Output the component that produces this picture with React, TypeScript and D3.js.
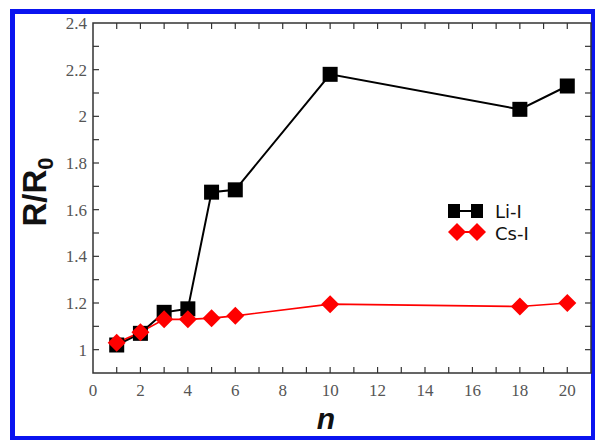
import React, { useEffect, useRef } from "react";
import * as d3 from "d3";

const nValues = [1, 2, 3, 4, 5, 6, 10, 18, 20];
const liI = [1.02, 1.07, 1.16, 1.175, 1.675, 1.685, 2.18, 2.03, 2.13];
const csI = [1.03, 1.075, 1.13, 1.13, 1.135, 1.145, 1.195, 1.185, 1.2];
const xTicks = [0, 2, 4, 6, 8, 10, 12, 14, 16, 18, 20];
const yTicks = [1, 1.2, 1.4, 1.6, 1.8, 2, 2.2, 2.4];
const seriesNames = ["Li-I", "Cs-I"];

export default function App() {
  const ref = useRef<SVGSVGElement>(null);
  useEffect(() => {
    const svg = d3.select(ref.current);
    svg.selectAll("*").remove();
    const L = 93, R = 591, T = 23, B = 373;
    const x = d3.scaleLinear().domain([0, 21]).range([L, R]);
    const y = d3.scaleLinear().domain([0.9, 2.4]).range([B, T]);

    // blue frame
    svg.append("rect").attr("x", 12.5).attr("y", 11.5).attr("width", 581).attr("height", 427)
      .attr("fill", "none").attr("stroke", "#0a14f0").attr("stroke-width", 5);

    const axisColor = "#333";
    const g = svg.append("g");
    g.append("rect").attr("x", L).attr("y", T).attr("width", R - L).attr("height", B - T)
      .attr("fill", "none").attr("stroke", axisColor).attr("stroke-width", 1.5);

    const xMinor = d3.range(1, 21, 1);
    xMinor.forEach((v) => {
      const len = 6;
      g.append("line").attr("x1", x(v)).attr("x2", x(v)).attr("y1", B).attr("y2", B - len).attr("stroke", axisColor).attr("stroke-width", 1.2);
      g.append("line").attr("x1", x(v)).attr("x2", x(v)).attr("y1", T).attr("y2", T + len).attr("stroke", axisColor).attr("stroke-width", 1.2);
    });
    const yMinor = d3.range(1.0, 2.4, 0.1);
    yMinor.forEach((v) => {
      g.append("line").attr("x1", L).attr("x2", L + 6).attr("y1", y(v)).attr("y2", y(v)).attr("stroke", axisColor).attr("stroke-width", 1.2);
      g.append("line").attr("x1", R).attr("x2", R - 6).attr("y1", y(v)).attr("y2", y(v)).attr("stroke", axisColor).attr("stroke-width", 1.2);
    });

    const tickFont = "'Liberation Serif', 'DejaVu Serif', serif";
    xTicks.forEach((v) => {
      g.append("text").attr("x", x(v)).attr("y", B + 23).attr("text-anchor", "middle")
        .style("font-family", tickFont).style("font-size", "17px").attr("fill", "#555").text(String(v));
    });
    yTicks.forEach((v) => {
      g.append("text").attr("x", L - 6).attr("y", y(v) + 6).attr("text-anchor", "end")
        .style("font-family", tickFont).style("font-size", "17px").attr("fill", "#555").text(String(v));
    });

    // axis titles
    const yt = svg.append("text").attr("transform", `translate(46,192) rotate(-90)`)
      .attr("text-anchor", "middle").style("font-family", "'Liberation Sans', Arial, sans-serif")
      .style("font-weight", "bold").style("font-size", "33px").attr("fill", "#111");
    yt.append("tspan").text("R/R");
    yt.append("tspan").style("font-size", "22px").attr("dy", 7).text("0");
    svg.append("text").attr("x", 326).attr("y", 429).attr("text-anchor", "middle")
      .style("font-family", "'Liberation Sans', Arial, sans-serif").style("font-weight", "bold")
      .style("font-style", "italic").style("font-size", "30px").attr("fill", "#111").text("n");

    const line = d3.line<number>().x((_, i) => x(nValues[i])).y((d) => y(d));
    g.append("path").datum(liI).attr("d", line).attr("fill", "none").attr("stroke", "#000").attr("stroke-width", 2);
    g.append("path").datum(csI).attr("d", line).attr("fill", "none").attr("stroke", "#f00").attr("stroke-width", 1.6);

    const sq = 15;
    liI.forEach((v, i) => {
      g.append("rect").attr("x", x(nValues[i]) - sq / 2).attr("y", y(v) - sq / 2).attr("width", sq).attr("height", sq).attr("fill", "#000");
    });
    const diamond = (cx: number, cy: number, r: number) => `M${cx},${cy - r}L${cx + r},${cy}L${cx},${cy + r}L${cx - r},${cy}Z`;
    csI.forEach((v, i) => {
      g.append("path").attr("d", diamond(x(nValues[i]), y(v), 9)).attr("fill", "#f00");
    });

    // legend
    const lg = svg.append("g");
    lg.append("line").attr("x1", 453).attr("x2", 478).attr("y1", 211).attr("y2", 211).attr("stroke", "#000").attr("stroke-width", 2);
    lg.append("rect").attr("x", 448).attr("y", 204).attr("width", 12).attr("height", 14).attr("fill", "#000");
    lg.append("rect").attr("x", 471).attr("y", 204).attr("width", 12).attr("height", 14).attr("fill", "#000");
    lg.append("line").attr("x1", 456).attr("x2", 477).attr("y1", 232).attr("y2", 232).attr("stroke", "#f00").attr("stroke-width", 2);
    lg.append("path").attr("d", diamond(457, 232, 9)).attr("fill", "#f00");
    lg.append("path").attr("d", diamond(477, 232, 9)).attr("fill", "#f00");
    lg.append("text").attr("x", 495).attr("y", 218).style("font-family", "'DejaVu Sans', sans-serif").style("font-size", "18px").attr("fill", "#111").text(seriesNames[0]);
    lg.append("text").attr("x", 495).attr("y", 240).style("font-family", "'DejaVu Sans', sans-serif").style("font-size", "18px").attr("fill", "#111").text(seriesNames[1]);
  }, []);
  return (
    <svg ref={ref} width={595} height={440} style={{ position: "fixed", left: 0, top: 0, background: "#fff" }} />
  );
}
